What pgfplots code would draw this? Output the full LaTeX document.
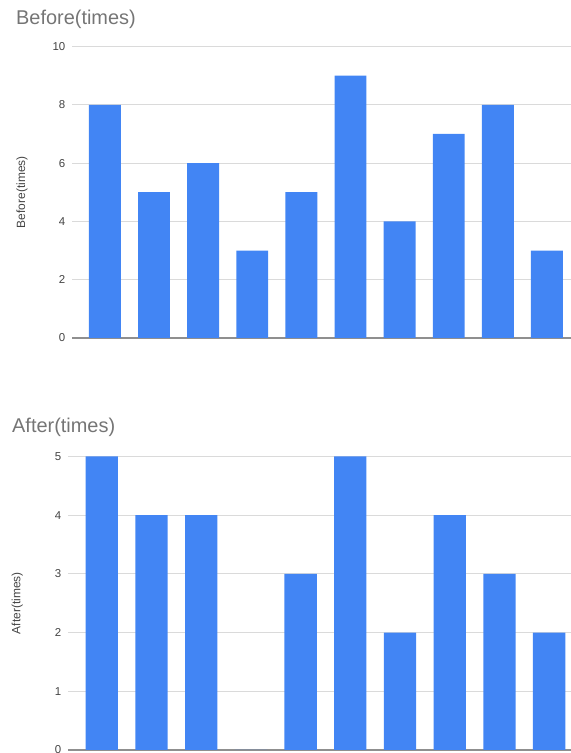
\documentclass[border=0pt]{standalone}
\usepackage{pgfplots}
\pgfplotsset{compat=1.18}
\usepackage{fontspec}
\setmainfont{Liberation Sans}
\definecolor{barblue}{HTML}{4285F4}
\definecolor{titlegrey}{HTML}{757575}
\definecolor{tickgrey}{HTML}{444444}
\definecolor{gridgrey}{HTML}{DADADA}
\definecolor{axisgrey}{HTML}{8F8F8F}
\pgfplotsset{
  gchart/.style={
    scale only axis,
    ybar, bar width=0.65,
    /pgf/number format/assume math mode=true,
    separate axis lines,
    axis x line*=bottom,
    axis y line*=left,
    y axis line style={draw=none},
    x axis line style={color=axisgrey, line width=1.3bp},
    xtick=\empty,
    major tick length=0pt,
    ymajorgrids,
    grid style={color=gridgrey, line width=0.8bp},
    yticklabel={\fontsize{11.5}{13}\selectfont\pgfmathprintnumber{\tick}},
    yticklabel style={color=tickgrey, inner xsep=6.5bp},
    clip=false,
  }
}
\begin{document}
\begin{tikzpicture}[x=1bp,y=1bp]
\useasboundingbox (0,0) rectangle (571,753);
\node[anchor=base west, color=titlegrey, font=\fontsize{20}{24}\selectfont, inner sep=0pt] at (16,728) {Before(times)};
\begin{axis}[gchart,
  at={(72bp,415bp)}, anchor=south west,
  width=499bp, height=291.5bp,
  xmin=-0.67, xmax=9.49,
  ymin=0, ymax=10, ytick={0,2,4,6,8,10},
  ylabel={\fontsize{12}{14}\selectfont Before(times)},
  every axis y label/.style={at={(axis description cs:-0.1,0.5)}, rotate=90, anchor=center, color=tickgrey},
]
\addplot[fill=barblue, draw=none] coordinates {(0,8) (1,5) (2,6) (3,3) (4,5) (5,9) (6,4) (7,7) (8,8) (9,3)};
\end{axis}
\node[anchor=base west, color=titlegrey, font=\fontsize{20}{24}\selectfont, inner sep=0pt] at (12,320) {After(times)};
\begin{axis}[gchart,
  at={(68bp,3bp)}, anchor=south west,
  width=503bp, height=293.5bp,
  xmin=-0.68, xmax=9.44,
  ymin=0, ymax=5, ytick={0,1,2,3,4,5},
  ylabel={\fontsize{12}{14}\selectfont After(times)},
  every axis y label/.style={at={(axis description cs:-0.101,0.5)}, rotate=90, anchor=center, color=tickgrey},
]
\addplot[fill=barblue, draw=none] coordinates {(0,5) (1,4) (2,4) (3,0) (4,3) (5,5) (6,2) (7,4) (8,3) (9,2)};
\end{axis}
\end{tikzpicture}
\end{document}
